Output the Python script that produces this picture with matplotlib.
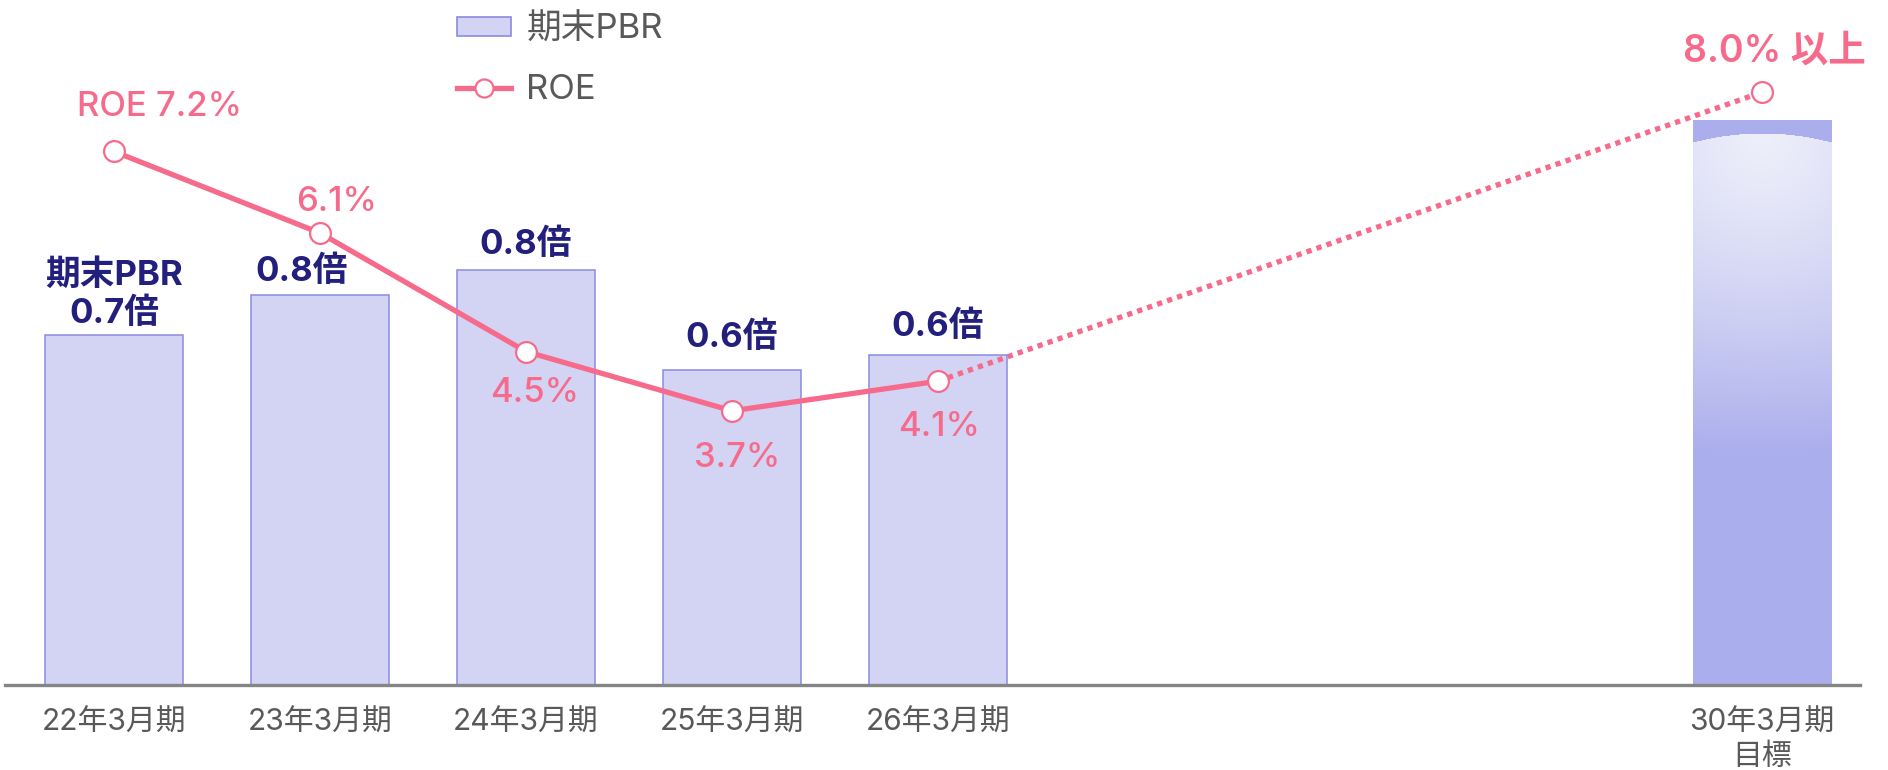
import numpy as np
import matplotlib
matplotlib.use('Agg')
import matplotlib.pyplot as plt
from matplotlib.lines import Line2D
from matplotlib.patches import Patch

plt.rcParams['font.family'] = ['Inter', 'Noto Sans CJK JP', 'DejaVu Sans']

# data
categories = ['22年3月期', '23年3月期', '24年3月期', '25年3月期', '26年3月期', '30年3月期\n目標']
xpos = [0, 1, 2, 3, 4, 8]
pbr = [0.70, 0.78, 0.83, 0.63, 0.66]
pbr_labels = ['期末PBR\n0.7倍', '0.8倍', '0.8倍', '0.6倍', '0.6倍']
target_bar = 1.13
roe = [7.2, 6.1, 4.5, 3.7, 4.1, 8.0]
roe_labels = ['ROE 7.2%', '6.1%', '4.5%', '3.7%', '4.1%', '8.0% 以上']

# label offsets (points)
pbr_off = [(0, 29), (-13, 17), (0, 18), (0, 23), (0, 20)]
roe_off = [(33, 32), (12, 22), (6, -30), (4, -34), (1, -33), (9, 29)]

PINK = '#f66b8c'
NAVY = '#22207c'
GRAY = '#595959'

W, H = 1888, 770
fig = plt.figure(figsize=(W / 100, H / 100), dpi=100)
ax = fig.add_axes([5 / W, 85 / H, 1855 / W, 685 / H])
ax2 = ax.twinx()

bw = 0.67
ax.bar(xpos[:5], pbr, width=bw, color='#d3d3f3', edgecolor='#8c8ae2', linewidth=1.1, zorder=2)

# target bar with gradient
tx0, tx1 = xpos[5] - bw / 2, xpos[5] + bw / 2
nr, nc = 566, 138
v = np.arange(nr)[:, None] * np.ones((1, nc))
u = np.linspace(-1, 1, nc)[None, :] * np.ones((nr, 1))
arc = 13 + 9 * u ** 2
r = np.sqrt(((v - arc) / 320.0) ** 2 + (0.25 * u) ** 2)
t = np.clip(r, 0, 1) ** 1.3
light = np.array([0xee, 0xef, 0xfa]) / 255
base = np.array([0xab, 0xae, 0xec]) / 255
img = light[None, None, :] + (base - light)[None, None, :] * t[:, :, None]
img[v < arc] = base
ax.imshow(img, extent=(tx0, tx1, 0, target_bar), aspect='auto', origin='upper', zorder=2)

for i in range(5):
    ax.annotate(pbr_labels[i], xy=(xpos[i], pbr[i]), xytext=pbr_off[i], textcoords='offset points',
                ha='center', va='center', fontsize=25, fontweight='bold', color=NAVY,
                linespacing=1.2)

# ROE line
ax2.plot(xpos[:5], roe[:5], color=PINK, lw=3.8, zorder=3, solid_capstyle='butt')
ax2.plot(xpos[4:], roe[4:], color=PINK, lw=3.8, ls=(0, (1, 1)), dash_capstyle='butt', zorder=3)
ax2.plot(xpos, roe, ls='none', marker='o', ms=15, mfc='white', mec=PINK, mew=1.6, zorder=4)

for i in range(6):
    fs = 27 if i == 5 else 25
    ax2.annotate(roe_labels[i], xy=(xpos[i], roe[i]), xytext=roe_off[i], textcoords='offset points',
                 ha='center', va='center', fontsize=fs, color=PINK,
                 fontweight='semibold' if i == 5 else 'medium')

ax.set_xlim((5 - 114) / 206, (1860 - 114) / 206)
ax.set_ylim(0, 685 / 500)
ax2.set_ylim(0, 685 / 74.1)

ax.set_xticks(xpos)
ax.set_xticklabels(categories, fontsize=21.5, color=GRAY, linespacing=1.3)
ax.tick_params(axis='x', length=0, pad=17)
ax.set_yticks([])
ax2.set_yticks([])
for a in (ax, ax2):
    for s in ['top', 'right', 'left']:
        a.spines[s].set_visible(False)
ax2.spines['bottom'].set_visible(False)
ax.spines['bottom'].set_color('#858585')
ax.spines['bottom'].set_linewidth(2.4)

handles = [Patch(facecolor='#d3d3f3', edgecolor='#8c8ae2', linewidth=1.2),
           Line2D([], [], color=PINK, lw=3.8, marker='o', ms=13, mfc='white', mec=PINK, mew=1.6)]
fig.legend(handles, ['期末PBR', 'ROE'], loc='upper left', bbox_to_anchor=(457 / W, 1 - 14 / H),
           frameon=False, fontsize=25, labelcolor=GRAY, handlelength=1.55, handleheight=0.45,
           handletextpad=0.45, labelspacing=0.8, borderpad=0, borderaxespad=0)

fig.savefig('out.png', dpi=100)
